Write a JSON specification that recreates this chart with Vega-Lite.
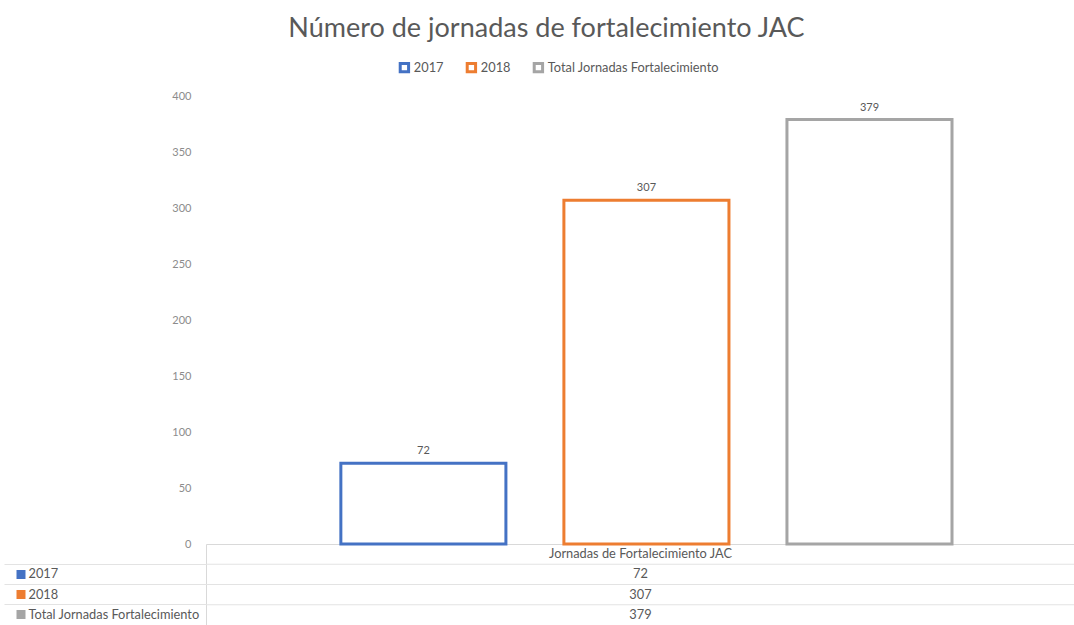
{
  "$schema": "https://vega.github.io/schema/vega-lite/v6.json",
  "padding": {"left": 3, "top": 15, "right": 0, "bottom": 0},
  "background": "white",
  "bounds": "flush",
  "title": {"text": "Número de jornadas de fortalecimiento JAC", "fontSize": 27, "font": "Lato", "fontWeight": "normal", "color": "#595959", "anchor": "middle", "offset": 18, "dx": 7},
  "datasets": {
    "barras": [
      {"categoria": "Jornadas de Fortalecimiento JAC", "serie": "2017", "valor": 72},
      {"categoria": "Jornadas de Fortalecimiento JAC", "serie": "2018", "valor": 307},
      {"categoria": "Jornadas de Fortalecimiento JAC", "serie": "Total Jornadas Fortalecimiento", "valor": 379}
    ],
    "tabla": [
      {"fila": "header", "texto": "Jornadas de Fortalecimiento JAC"},
      {"fila": "2017", "texto": "72"},
      {"fila": "2018", "texto": "307"},
      {"fila": "Total Jornadas Fortalecimiento", "texto": "379"}
    ]
  },
  "spacing": 0,
  "vconcat": [
    {
      "width": 869,
      "height": 448,
      "data": {"name": "barras"},
      "encoding": {
        "x": {"field": "categoria", "type": "nominal", "scale": {"paddingInner": 0, "paddingOuter": 0},
              "axis": {"title": null, "labels": false, "ticks": false, "domain": true, "domainColor": "#D9D9D9", "grid": false}},
        "xOffset": {"field": "serie", "type": "nominal", "sort": ["2017", "2018", "Total Jornadas Fortalecimiento"],
                    "scale": {"paddingInner": 0.26, "paddingOuter": 0.578, "align": 0.523}},
        "y": {"field": "valor", "type": "quantitative", "scale": {"domain": [0, 400]},
              "axis": {"title": null, "values": [0, 50, 100, 150, 200, 250, 300, 350, 400], "domain": false, "ticks": false, "grid": false,
                       "labelPadding": 15, "labelColor": "#8C8C8C", "labelFontSize": 11, "labelFont": "Lato", "minExtent": 202, "maxExtent": 202}}
      },
      "layer": [
        {
          "mark": {"type": "bar", "fill": "white", "strokeWidth": 3},
          "encoding": {
            "stroke": {"field": "serie", "type": "nominal", "sort": ["2017", "2018", "Total Jornadas Fortalecimiento"],
                       "scale": {"domain": ["2017", "2018", "Total Jornadas Fortalecimiento"], "range": ["#4472C4", "#ED7D31", "#A5A5A5"]},
                       "legend": {"title": null, "orient": "none", "legendX": 192, "legendY": -35, "direction": "horizontal", "symbolType": "square", "symbolSize": 70,
                                  "symbolStrokeWidth": 3, "symbolFillColor": "white", "labelFontSize": 12.8, "labelFont": "Lato", "labelLimit": 0,
                                  "labelColor": "#595959", "columnPadding": 17, "labelOffset": 3}}
          }
        },
        {
          "mark": {"type": "text", "baseline": "bottom", "dy": -7, "fontSize": 11, "font": "Lato", "color": "#595959"},
          "encoding": {"text": {"field": "valor", "type": "quantitative"}}
        }
      ]
    },
    {
      "width": 869,
      "height": 81,
      "data": {"name": "tabla"},
      "layer": [
        {
          "encoding": {
            "y": {"field": "fila", "type": "nominal",
                  "scale": {"domain": ["header", "2017", "2018", "Total Jornadas Fortalecimiento"], "paddingInner": 0, "paddingOuter": 0},
                  "axis": {"title": null, "orient": "left", "values": ["2017", "2018", "Total Jornadas Fortalecimiento"], "bandPosition": 0,
                           "grid": false, "domain": true, "domainColor": "#D9D9D9",
                           "ticks": true, "tickSize": 202, "tickColor": "#E3E3E3", "tickWidth": 1,
                           "labelAlign": "left", "labelBaseline": "middle", "labelOffset": 0, "labelPadding": -24, "labelLimit": 0,
                           "labelColor": "#595959", "labelFontSize": 12.8, "labelFont": "Lato",
                           "minExtent": 202, "maxExtent": 202}}
          },
          "layer": [
            {
              "transform": [{"filter": "datum.fila != 'header'"}],
              "mark": {"type": "rule", "color": "#E3E3E3", "strokeWidth": 1},
              "encoding": {"y": {"field": "fila", "type": "nominal", "bandPosition": 0}}
            },
            {
              "mark": {"type": "text", "fontSize": 12.8, "font": "Lato", "color": "#595959"},
              "encoding": {"text": {"field": "texto", "type": "nominal"}}
            }
          ]
        },
        {
          "transform": [{"filter": "datum.fila != 'header'"}],
          "mark": {"type": "rule", "opacity": 0},
          "encoding": {
            "y": {"field": "fila", "type": "nominal",
                  "scale": {"domain": ["header", "2017", "2018", "Total Jornadas Fortalecimiento"], "paddingInner": 0, "paddingOuter": 0},
                  "axis": {"title": null, "orient": "left", "values": ["2017", "2018", "Total Jornadas Fortalecimiento"], "bandPosition": 0.5,
                           "offset": 181, "domain": false, "grid": false, "labels": false,
                           "ticks": true, "tickSize": 9, "tickWidth": 9, "tickCap": "butt",
                           "tickColor": {"condition": [{"test": "datum.value == '2017'", "value": "#4472C4"}, {"test": "datum.value == '2018'", "value": "#ED7D31"}], "value": "#A5A5A5"},
                           "minExtent": 0, "maxExtent": 0}}
          }
        }
      ],
      "resolve": {"scale": {"y": "independent"}, "axis": {"y": "independent"}}
    }
  ],
  "config": {"view": {"stroke": null}, "font": "Lato"}
}
